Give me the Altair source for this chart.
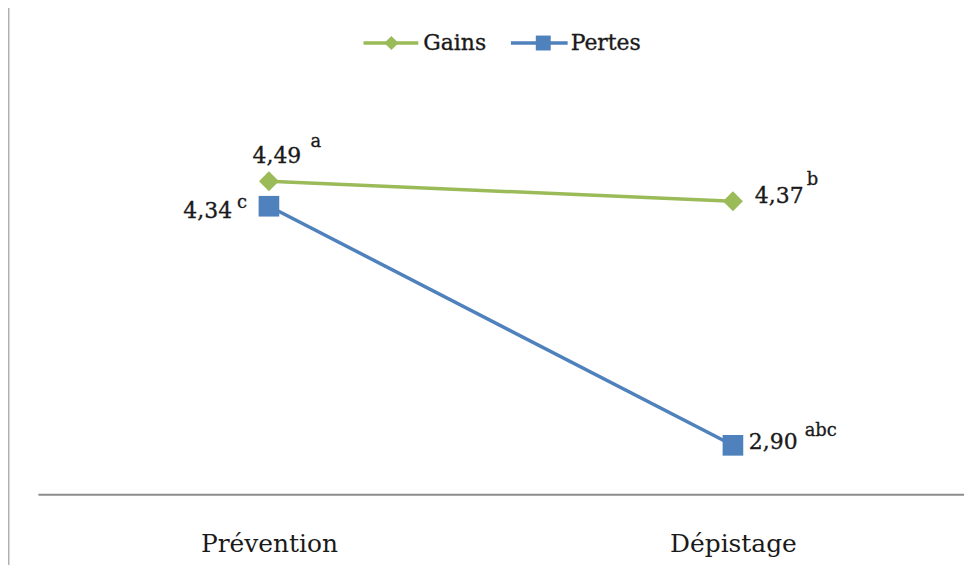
import altair as alt
import pandas as pd

# ---- data ----
categories = ["Prévention", "Dépistage"]
series = ["Gains", "Pertes"]
gains = [4.49, 4.37]
pertes = [4.34, 2.90]
letters_gains = ["a", "b"]
letters_pertes = ["c", "abc"]

colors = ["#9BBB59", "#4F81BD"]
shapes = ["diamond", "square"]
marker_sizes = [400, 430]

rows = []
for s, vals, lets in zip(series, [gains, pertes], [letters_gains, letters_pertes]):
    for c, v, l in zip(categories, vals, lets):
        rows.append({"serie": s, "condition": c, "valeur": v,
                     "label": f"{v:.2f}".replace(".", ","), "sup": l})
df = pd.DataFrame(rows)

FONT = "DejaVu Serif"
TXT = "#1a1a1a"
W, H = 930, 487

x = alt.X("condition:N", sort=categories,
          scale=alt.Scale(type="point", padding=0.498),
          axis=alt.Axis(title=None, labelAngle=0, ticks=False, tickSize=0,
                        labelPadding=58, labelBaseline="alphabetic",
                        labelFont=FONT, labelFontSize=25, labelColor=TXT,
                        domainColor="#8c8c8c", domainWidth=2, grid=False))
y = alt.Y("valeur:Q", scale=alt.Scale(domain=[2.606, 5.527], nice=False, zero=False),
          axis=None)
color = alt.Color("serie:N", scale=alt.Scale(domain=series, range=colors), legend=None)
shape = alt.Shape("serie:N", scale=alt.Scale(domain=series, range=shapes), legend=None)
size = alt.Size("serie:N", scale=alt.Scale(domain=series, range=marker_sizes), legend=None)

base = alt.Chart(df)
lines = base.mark_line(strokeWidth=3.5).encode(x=x, y=y, color=color, detail="serie:N")
points = base.mark_point(filled=True, opacity=1, strokeWidth=0).encode(
    x=x, y=y, color=color, shape=shape, size=size)

# annotation offsets: (label dx, dy, align), (sup dx, dy, align)
offsets = {
    ("Gains", "Prévention"): ((8, -18, "center"), (47, -34, "center")),
    ("Pertes", "Prévention"): ((-37, 12, "right"), (-27, 2, "center")),
    ("Gains", "Dépistage"): ((22, 2, "left"), (80, -16, "center")),
    ("Pertes", "Dépistage"): ((16, 4, "left"), (72, -9, "left")),
}

layers = [lines, points]
for (s, c), ((ldx, ldy, lal), (sdx, sdy, sal)) in offsets.items():
    sub = base.transform_filter(
        (alt.datum.serie == s) & (alt.datum.condition == c))
    layers.append(sub.mark_text(font=FONT, fontSize=22, color=TXT, stroke=TXT,
                                strokeWidth=0.35, baseline="alphabetic",
                                align=lal, dx=ldx, dy=ldy)
                  .encode(x=x, y=y, text="label:N"))
    layers.append(sub.mark_text(font=FONT, fontSize=18, color=TXT, stroke=TXT,
                                strokeWidth=0.3, baseline="alphabetic",
                                align=sal, dx=sdx, dy=sdy)
                  .encode(x=x, y=y, text="sup:N"))

# manual legend (line + marker + text)
leg_df = pd.DataFrame({"serie": series})
leg_pos = {
    "Gains": dict(x1=327, x2=382, mx=355, tx=387, size=200),
    "Pertes": dict(x1=475, x2=532, mx=507.5, tx=535, size=225),
}
for i, s in enumerate(series):
    p = leg_pos[s]
    lc = alt.Chart(leg_df).transform_filter(alt.datum.serie == s)
    layers.append(lc.mark_rule(strokeWidth=3.5, color=colors[i]).encode(
        x=alt.value(p["x1"]), x2=alt.value(p["x2"]), y=alt.value(34)))
    layers.append(lc.mark_point(filled=True, opacity=1, strokeWidth=0, shape=shapes[i],
                                size=p["size"], color=colors[i]).encode(
        x=alt.value(p["mx"]), y=alt.value(34)))
    layers.append(lc.mark_text(font=FONT, fontSize=22, color=TXT, stroke=TXT,
                               strokeWidth=0.35, align="left",
                               baseline="alphabetic").encode(
        x=alt.value(p["tx"]), y=alt.value(41), text="serie:N"))

# faint frame edge on the left
edge = alt.Chart(leg_df.head(1)).mark_rule(strokeWidth=1.5, color="#b0b0b0").encode(
    x=alt.value(-29.25), y=alt.value(-2), y2=alt.value(H + 72))
layers.append(edge)

chart = alt.layer(*layers).properties(
    width=W, height=H,
    autosize=alt.AutoSizeParams(type="none"),
    padding={"left": 30, "top": 0, "right": 0, "bottom": 70},
    background="white",
).configure_view(stroke=None)

chart.save("out.html", embed_options={"renderer": "svg", "actions": False})
